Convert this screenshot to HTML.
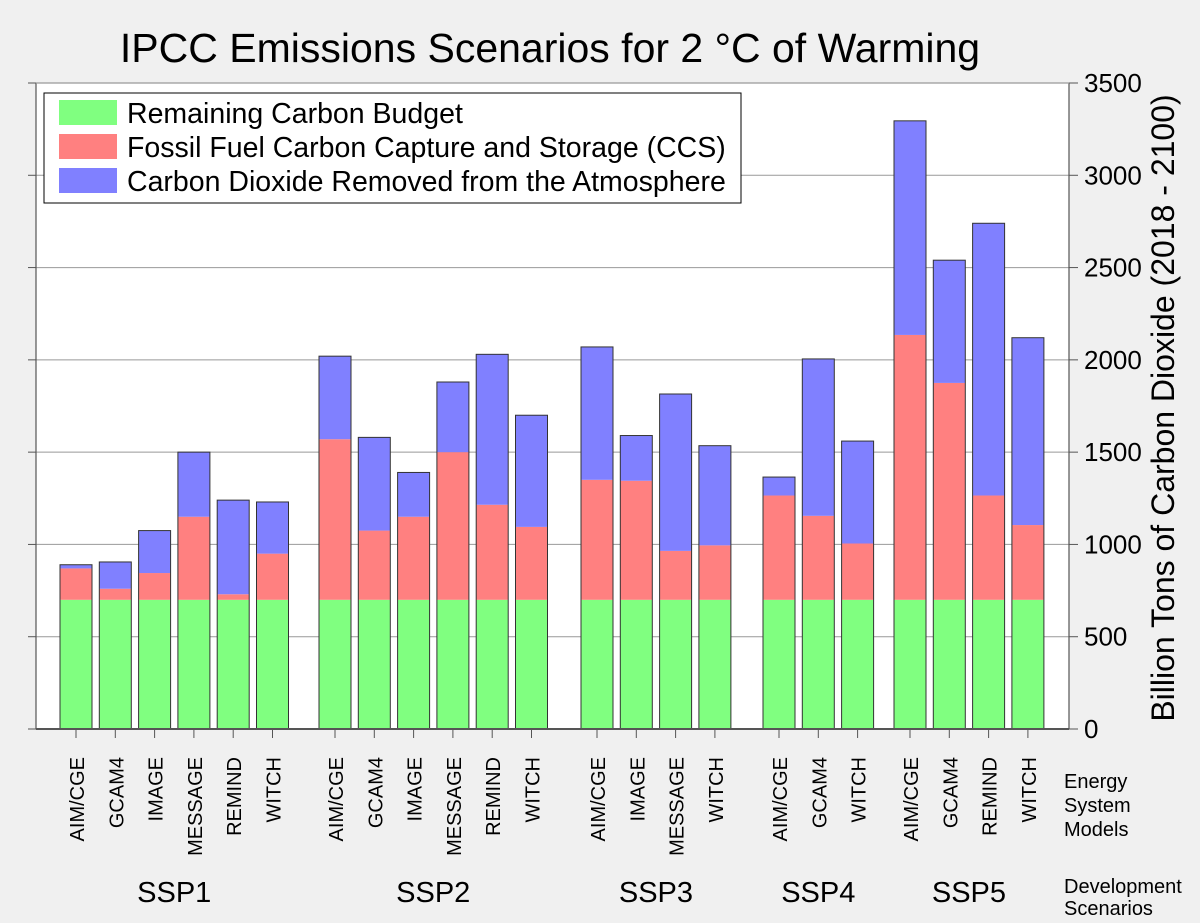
<!DOCTYPE html>
<html><head><meta charset="utf-8"><style>
body{margin:0;background:#f0f0f0;}
svg{display:block;font-family:"Liberation Sans",Arial,sans-serif;}
</style></head><body>
<svg id="chart" width="1200" height="923" viewBox="0 0 1200 923">
<rect x="0" y="0" width="1200" height="923" fill="#f0f0f0"/>
<text x="550" y="62" font-size="41" text-anchor="middle" fill="#000">IPCC Emissions Scenarios for 2 °C of Warming</text>
<rect x="36" y="83" width="1033" height="646" fill="#fff"/>
<g id="grid"></g>
<g id="bars"></g>
<g id="axes"></g>
<g>
<rect x="44" y="93" width="697" height="110" fill="#fff" stroke="#000" stroke-width="1"/>
<rect x="59" y="100" width="58" height="25" fill="#80ff80"/>
<text x="127" y="123" font-size="28.5">Remaining Carbon Budget</text>
<rect x="59" y="134" width="58" height="25" fill="#ff8080"/>
<text x="127" y="157" font-size="28.5">Fossil Fuel Carbon Capture and Storage (CCS)</text>
<rect x="59" y="168" width="58" height="25" fill="#8080ff"/>
<text x="127" y="191" font-size="28.5">Carbon Dioxide Removed from the Atmosphere</text>
</g>
<text transform="translate(1174,408) rotate(-90)" font-size="32" text-anchor="middle">Billion Tons of Carbon Dioxide (2018 - 2100)</text>
<text x="1064" y="788" font-size="20">Energy</text>
<text x="1064" y="812" font-size="20">System</text>
<text x="1064" y="836" font-size="20">Models</text>
<text x="1064" y="893" font-size="20">Development</text>
<text x="1064" y="915" font-size="20">Scenarios</text>
</svg>
<script>
const models=["AIM/CGE","GCAM4","IMAGE","MESSAGE","REMIND","WITCH","AIM/CGE","GCAM4","IMAGE","MESSAGE","REMIND","WITCH","AIM/CGE","IMAGE","MESSAGE","WITCH","AIM/CGE","GCAM4","WITCH","AIM/CGE","GCAM4","REMIND","WITCH"];
const scenarioOf=[0,0,0,0,0,0,1,1,1,1,1,1,2,2,2,2,3,3,3,4,4,4,4];
const scenarios=["SSP1","SSP2","SSP3","SSP4","SSP5"];
const budget=[700,700,700,700,700,700,700,700,700,700,700,700,700,700,700,700,700,700,700,700,700,700,700];
const ccsTop=[870,760,845,1150,730,950,1570,1075,1150,1500,1215,1095,1350,1345,965,995,1265,1155,1005,2135,1875,1265,1105];
const totalTop=[890,905,1075,1500,1240,1230,2020,1580,1390,1880,2030,1700,2070,1590,1815,1535,1365,2005,1560,3295,2540,2740,2120];
const yTicks=[0,500,1000,1500,2000,2500,3000,3500];

const NS="http://www.w3.org/2000/svg";
const y0=729,yTop=83,yMax=3500;
function yS(v){return y0-(v/yMax)*(y0-yTop);}
const groupStart=[76,335,597,779,910];
const step=39.3,bw=32;
function xC(i){const g=scenarioOf[i];let k=0;for(let j=0;j<i;j++)if(scenarioOf[j]===g)k++;return groupStart[g]+k*step;}
function mk(tag,attrs,parent){const e=document.createElementNS(NS,tag);for(const k in attrs)e.setAttribute(k,attrs[k]);parent.appendChild(e);return e;}
const grid=document.getElementById('grid'),bars=document.getElementById('bars'),axes=document.getElementById('axes');
yTicks.forEach(t=>{
  if(t>0){const l=mk('line',{x1:36,x2:1069,y1:yS(t),y2:yS(t),stroke:'#999','stroke-width':1},grid);
  
  }
  const tk=mk('line',{x1:1069,x2:1078,y1:yS(t),y2:yS(t),stroke:'#555'},axes);
  
  
  const lt=mk('line',{x1:28,x2:36,y1:yS(t),y2:yS(t),stroke:'#555'},axes);
  
  
  const tx=mk('text',{x:1084,y:yS(t)+9,'font-size':26},axes);tx.textContent=t;
  
  
});
models.forEach((m,i)=>{
  const x=xC(i)-bw/2;
  const segs=[[0,budget[i],'#80ff80','budget'],[budget[i],ccsTop[i],'#ff8080','ccs'],[ccsTop[i],totalTop[i],'#8080ff','cdr']];
  segs.forEach(s=>{const r=mk('rect',{x:x,y:yS(s[1]),width:bw,height:yS(s[0])-yS(s[1]),fill:s[2]},bars);
    
    });
  const o=mk('rect',{x:x,y:yS(totalTop[i]),width:bw,height:yS(0)-yS(totalTop[i]),fill:'none',stroke:'#333','stroke-width':1},bars);
  
  
  const t=mk('line',{x1:xC(i),x2:xC(i),y1:729,y2:738,stroke:'#555'},axes);
  
  
  const lb=mk('text',{transform:`translate(${xC(i)+8},757) rotate(-90)`,'font-size':20,'text-anchor':'end'},axes);lb.textContent=m;
  
  
});
scenarios.forEach((s,g)=>{
  const idx=scenarioOf.map((v,i)=>v===g?i:-1).filter(i=>i>=0);
  const c=(xC(idx[0])+xC(idx[idx.length-1]))/2;
  const t=mk('text',{x:c,y:902,'font-size':29,'text-anchor':'middle'},axes);t.textContent=s;
  
  
});
const ax=[[36,729,1069,729],[36,83,36,729],[1069,83,1069,729],[36,83,1069,83]];
ax.forEach((a,k)=>{const l=mk('line',{x1:a[0],y1:a[1],x2:a[2],y2:a[3],stroke:k==3?'#999':'#555','stroke-width':k==0?2:1.2},axes);
  
  });
</script>
</body></html>
